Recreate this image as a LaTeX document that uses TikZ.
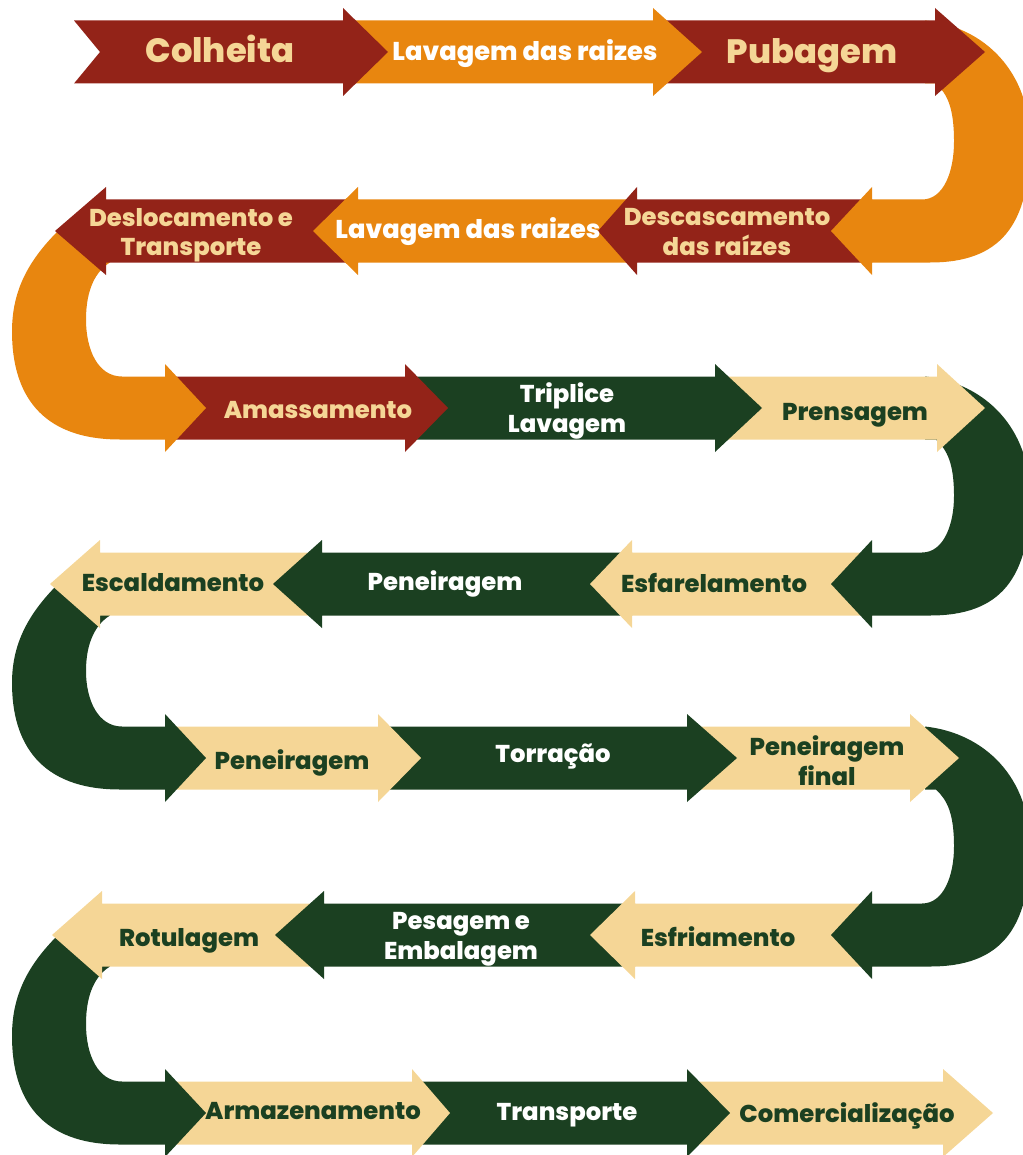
\documentclass[tikz,border=0pt]{standalone}
\usepackage{fontspec}
\setmainfont{Poppins}[BoldFont={* ExtraBold}]
\usetikzlibrary{shapes,arrows}

\definecolor{cropred}{RGB}{147,35,24}
\definecolor{rootorange}{RGB}{232,134,15}
\definecolor{leaf}{RGB}{27,64,33}
\definecolor{sand}{RGB}{245,214,150}

% straight step arrow: colour, tail x, head base x, tip x, centre y
\newcommand{\flowarrow}[5]{\fill[#1] (#2,{#5-31.5}) -- (#3,{#5-31.5}) -- (#3,{#5-44}) -- (#4,#5) -- (#3,{#5+44}) -- (#3,{#5+31.5}) -- (#2,{#5+31.5}) -- cycle;}
% u-turns between two rows: colour, upper row y, lower row y
\newcommand{\rightturn}[3]{\fill[#1] (925,{#2-31.5}) .. controls (985,{#2-25}) and (1030,{#2+20}) .. (1030,{(#2+#3)/2}) .. controls (1030,{#3-5}) and (1000,{#3+31.5}) .. (930,{#3+31.5}) -- (872,{#3+31.5}) -- (872,{#3+44}) -- (831,#3) -- (872,{#3-44}) -- (872,{#3-31.5}) -- (922,{#3-31.5}) .. controls (944,{#3-31.5}) and (954,{#3-60}) .. (954,{(#2+#3)/2}) .. controls (954,{#2+55}) and (947,{#2+42}) .. (936,{#2+31.5}) -- (925,{#2+31.5}) -- cycle;}
\newcommand{\leftturn}[3]{\fill[#1] (58,#2) .. controls (28,{#2+30}) and (12,{#2+60}) .. (12,{(#2+#3)/2+12}) .. controls (12,{#3-15}) and (40,{#3+31.5}) .. (120,{#3+31.5}) -- (165,{#3+31.5}) -- (165,{#3+44}) -- (206,#3) -- (165,{#3-44}) -- (165,{#3-31.5}) -- (122,{#3-31.5}) .. controls (98,{#3-31.5}) and (86,{#3-58}) .. (86,{(#2+#3)/2}) .. controls (86,{#2+58}) and (96,{#2+40}) .. (110,{#2+31.5}) -- cycle;}

\begin{document}
\begin{tikzpicture}[x=0.025cm,y=-0.025cm,
  lbl/.style={inner sep=0pt,text depth=0pt,text height=12.2pt,font=\bfseries\fontsize{17.3}{21.3}\selectfont},
  lavlbl/.style={lbl,text height=13pt,font=\bfseries\fontsize{18.3}{23}\selectfont},
  biglbl/.style={lbl,text height=17.1pt,font=\bfseries\fontsize{24}{29}\selectfont},
  twolbl/.style={inner sep=0pt,text depth=0pt,align=center,font=\bfseries\fontsize{17.3}{21.3}\selectfont},
  onred/.style={text=sand},
  ondark/.style={text=white},
  onsand/.style={text=leaf}]

  \useasboundingbox (0,0) rectangle (1023,1155);

  % drawn from the end back to the start, so each step lies over the next
  \flowarrow{sand}{687}{943}{993}{1113}
  \flowarrow{leaf}{412}{687}{730}{1113}
  \flowarrow{sand}{165}{412}{450}{1113}
  \leftturn{leaf}{935}{1113}
  \flowarrow{sand}{324}{102}{52}{935}
  \flowarrow{leaf}{635}{324}{275}{935}
  \flowarrow{sand}{872}{635}{590}{935}
  \rightturn{leaf}{758}{935}
  \flowarrow{sand}{687}{910}{959}{758}
  \flowarrow{leaf}{378}{687}{737}{758}
  \flowarrow{sand}{165}{378}{421}{758}
  \leftturn{leaf}{584}{758}
  \flowarrow{sand}{322}{100}{50}{584}
  \flowarrow{leaf}{632}{322}{273}{584}
  \flowarrow{sand}{872}{632}{590}{584}
  \rightturn{leaf}{408}{584}
  \flowarrow{sand}{715}{937}{985}{408}
  \flowarrow{leaf}{405}{715}{762}{408}
  \flowarrow{cropred}{165}{405}{448}{408}
  \leftturn{rootorange}{231}{408}
  \flowarrow{cropred}{358}{106}{55}{231}
  \flowarrow{rootorange}{637}{358}{313}{231}
  \flowarrow{cropred}{872}{637}{598}{231}
  \rightturn{rootorange}{52}{231}
  \flowarrow{cropred}{653}{935}{985}{52}
  \flowarrow{rootorange}{343}{653}{702}{52}
  \fill[cropred] (74,20.5) -- (343,20.5) -- (343,8) -- (388,52) -- (343,96) -- (343,83.5) -- (74,83.5) -- (100,52) -- cycle;

  % labels
  \node[biglbl,onred] (colheita) at (220,50) {Colheita};
  \node[lavlbl,ondark] (lavagemA) at (525,51) {Lavagem das raizes};
  \node[biglbl,onred] (pubagem) at (812,51) {Pubagem};

  \node[twolbl,onred] (descascamento) at (727,232) {Descascamento\\das raízes};
  \node[lavlbl,ondark] (lavagemB) at (468,229) {Lavagem das raizes};
  \node[twolbl,onred] (deslocamento) at (191,232) {Deslocamento e\\Transporte};

  \node[lbl,onred] (amassamento) at (318,410) {Amassamento};
  \node[twolbl,ondark] (triplice) at (567,408) {Triplice\\Lavagem};
  \node[lbl,onsand] (prensagem) at (855,412) {Prensagem};

  \node[lbl,onsand] (esfarelamento) at (714,584) {Esfarelamento};
  \node[lbl,ondark] (peneiragemA) at (445,582) {Peneiragem};
  \node[lbl,onsand] (escaldamento) at (173,583) {Escaldamento};

  \node[lbl,onsand] (peneiragemB) at (292,761) {Peneiragem};
  \node[lbl,ondark] (torracao) at (553,754) {Torração};
  \node[twolbl,onsand] (peneiragemfinal) at (827,761) {Peneiragem\\final};

  \node[lbl,onsand] (esfriamento) at (718,938) {Esfriamento};
  \node[twolbl,ondark] (pesagem) at (461,936) {Pesagem e\\Embalagem};
  \node[lbl,onsand] (rotulagem) at (189,938) {Rotulagem};

  \node[lbl,onsand] (armazenamento) at (313,1111) {Armazenamento};
  \node[lbl,ondark] (transporte) at (567,1112) {Transporte};
  \node[lbl,onsand] (comercializacao) at (847,1114) {Comercialização};
\end{tikzpicture}
\end{document}
